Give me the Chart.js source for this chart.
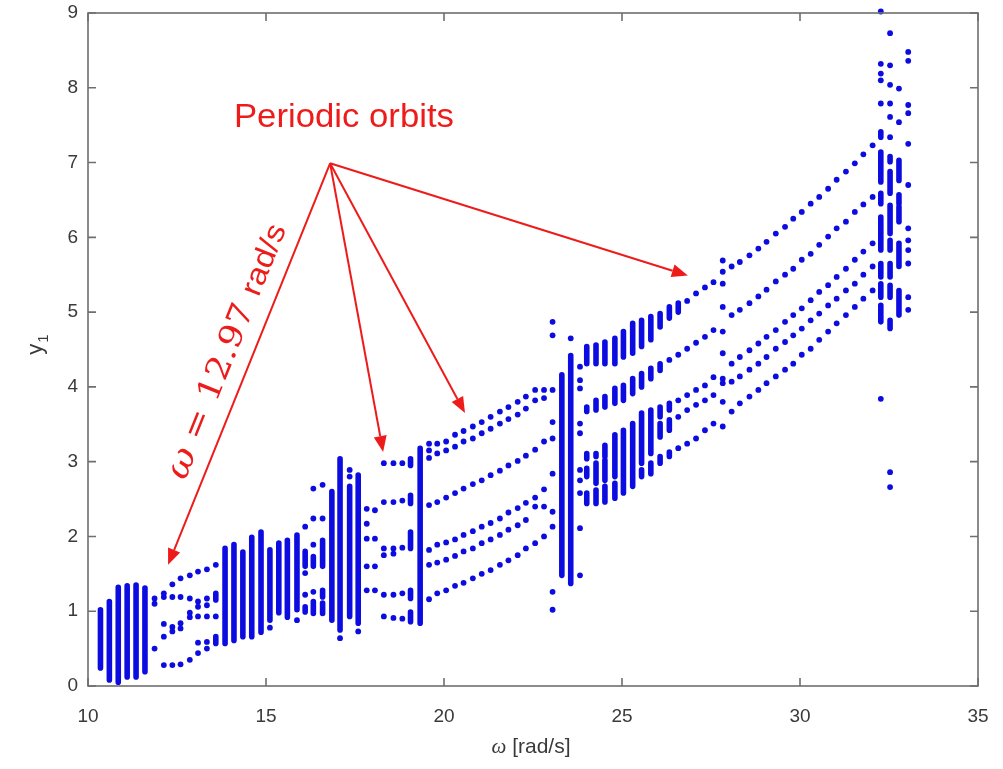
<!DOCTYPE html>
<html>
<head>
<meta charset="utf-8">
<script src="https://cdn.jsdelivr.net/npm/chart.js@4.4.1/dist/chart.umd.min.js"></script>
<style>
  html, body { margin: 0; padding: 0; background: #ffffff; }
  canvas { display: block; }
</style>
</head>
<body>
<canvas id="c" width="1003" height="769"></canvas>
<script>
// ---- Data ----
// Excitation frequency of each sampled column [rad/s]
const omega = [
  10.35, 10.6, 10.85, 11.1, 11.35, 11.6,
  11.87, 12.13, 12.37, 12.6, 12.86, 13.09, 13.34, 13.59,
  13.85, 14.1, 14.35, 14.6, 14.86, 15.11, 15.36, 15.6, 15.87,
  16.1, 16.33, 16.59, 16.85, 17.08, 17.35, 17.59, 17.83, 18.06,
  18.31, 18.58, 18.83, 19.06, 19.33, 19.58, 19.81,
  20.06, 20.31, 20.55, 20.81, 21.06, 21.31, 21.57, 21.81, 22.07, 22.3, 22.56, 22.81,
  23.05, 23.31, 23.56, 23.82,
  24.01, 24.27, 24.52, 24.8, 25.04, 25.3, 25.55, 25.81, 26.07, 26.33, 26.58, 26.83,
  27.08, 27.33, 27.57, 27.83,
  28.08, 28.31, 28.58, 28.83, 29.06, 29.32, 29.58, 29.81, 30.05, 30.3, 30.54, 30.79,
  31.03, 31.29, 31.54, 31.78, 32.04,
  32.27, 32.53, 32.78, 33.04
];

// Isolated Poincaré points y1 of each column
const dotsY = [
  [], [], [], [], [], [],
  [1.17, 1.10, 0.50],
  [1.24, 1.19, 0.83, 0.66, 0.28],
  [1.36, 1.19, 0.79, 0.73, 0.28],
  [1.44, 1.19, 0.84, 0.77, 0.29],
  [1.48, 1.17, 0.98, 0.92, 0.35],
  [1.53, 1.13, 1.06, 0.93, 0.58, 0.44],
  [1.56, 1.17, 1.08, 0.93, 0.59, 0.50],
  [1.62, 0.93],
  [], [], [], [], [], [0.78], [], [], [0.88],
  [2.13, 1.51, 1.22],
  [2.64, 2.24, 1.89, 1.26],
  [2.69, 2.24],
  [],
  [0.64],
  [2.89, 2.80],
  [0.73],
  [2.37, 2.17, 1.97, 1.60, 1.28],
  [2.35, 1.97, 1.60, 1.28],
  [2.98, 2.46, 1.84, 1.75, 1.22, 0.93],
  [2.98, 2.46, 1.84, 1.77, 1.22, 0.91],
  [2.98, 2.48, 1.85, 1.24, 0.90],
  [],
  [],
  [3.24, 3.15, 3.05, 2.42, 1.82, 1.62, 1.16],
  [3.24, 3.11, 2.46, 1.89, 1.65, 1.24],
  [3.27, 3.15, 2.52, 1.92, 1.69, 1.28],
  [3.36, 3.20, 2.58, 1.96, 1.74, 1.34],
  [3.41, 3.27, 2.64, 2.02, 1.80, 1.38],
  [3.47, 3.31, 2.70, 2.07, 1.84, 1.44],
  [3.53, 3.38, 2.75, 2.13, 1.91, 1.50],
  [3.60, 3.44, 2.82, 2.18, 1.96, 1.55],
  [3.67, 3.51, 2.88, 2.24, 2.02, 1.62],
  [3.73, 3.57, 2.95, 2.32, 2.09, 1.68],
  [3.80, 3.63, 3.01, 2.38, 2.15, 1.75],
  [3.87, 3.71, 3.08, 2.45, 2.22, 1.84],
  [3.96, 3.82, 3.16, 2.52, 2.40, 1.91],
  [3.96, 3.85, 3.27, 2.63, 2.40, 2.00],
  [4.87, 4.69, 3.96, 3.53, 3.31, 2.84, 2.33, 2.13, 1.26, 1.02],
  [],
  [4.65],
  [4.27, 4.09, 3.98, 3.51, 3.38, 2.89, 2.75, 2.58, 2.11, 1.48],
  [], [], [], [], [], [], [], [], [],
  [4.36],
  [4.43, 3.82, 3.60, 3.18],
  [5.15, 4.51, 3.89, 3.69, 3.24],
  [5.25, 4.59, 3.96, 3.76, 3.31],
  [5.33, 4.67, 4.02, 3.82, 3.42],
  [5.40, 4.76, 4.13, 3.89, 3.51],
  [5.69, 5.54, 5.38, 5.07, 4.74, 4.45, 4.11, 4.05, 3.80, 3.47],
  [5.61, 4.96, 4.31, 4.07, 3.67],
  [5.67, 5.03, 4.40, 4.14, 3.78],
  [5.76, 5.12, 4.49, 4.23, 3.87],
  [5.85, 5.21, 4.58, 4.31, 3.96],
  [5.94, 5.30, 4.67, 4.40, 4.05],
  [6.05, 5.41, 4.76, 4.51, 4.14],
  [6.14, 5.50, 4.87, 4.60, 4.23],
  [6.25, 5.58, 4.96, 4.69, 4.31],
  [6.34, 5.70, 5.05, 4.78, 4.43],
  [6.45, 5.78, 5.16, 4.89, 4.51],
  [6.54, 5.90, 5.27, 4.98, 4.63],
  [6.65, 6.01, 5.36, 5.09, 4.74],
  [6.77, 6.12, 5.47, 5.18, 4.85],
  [6.88, 6.21, 5.58, 5.29, 4.96],
  [6.99, 6.34, 5.70, 5.38, 5.07],
  [7.11, 6.44, 5.81, 5.50, 5.18],
  [7.23, 6.54, 5.92, 5.61, 5.29],
  [9.02, 8.32, 8.19, 8.10, 7.79, 3.84],
  [8.73, 8.30, 8.04, 7.79, 7.61, 7.34, 2.86, 2.66],
  [7.99, 7.54],
  [8.48, 8.36, 7.77, 7.66, 7.25, 6.70, 6.12, 5.96, 5.83, 5.65, 5.20, 5.03]
];

// Dense runs of points (chaotic / quasi-periodic bands): [low, high] per column
const runsY = [
  [[0.24, 1.02]], [[0.08, 1.13]], [[0.05, 1.32]], [[0.12, 1.34]], [[0.12, 1.35]], [[0.19, 1.31]],
  [], [], [], [], [], [], [],
  [[1.15, 1.24], [0.57, 0.66]],
  [[0.57, 1.84]], [[0.61, 1.89]], [[0.66, 1.79]], [[0.66, 1.99]], [[0.72, 2.06]],
  [[0.88, 1.82]], [[0.98, 1.91]], [[0.92, 1.95]], [[1.02, 2.02]],
  [[1.60, 1.80], [0.99, 1.06]],
  [[1.60, 1.73], [0.97, 1.13]],
  [[1.60, 1.95], [1.19, 1.28], [0.97, 1.11]],
  [[0.88, 2.60]],
  [[0.75, 3.04]],
  [[0.93, 2.67]],
  [[0.84, 2.82]],
  [], [], [], [], [],
  [[2.95, 3.04], [2.44, 2.55], [1.84, 2.06], [1.17, 1.28], [0.86, 0.99]],
  [[0.84, 3.18]],
  [], [],
  [], [], [], [], [], [], [], [], [], [], [], [],
  [],
  [[1.48, 4.16]],
  [[1.37, 4.42]],
  [],
  [[4.31, 4.54], [3.67, 3.73], [3.04, 3.11], [2.80, 2.91], [2.44, 2.58]],
  [[4.31, 4.56], [3.69, 3.82], [3.07, 3.11], [2.71, 2.98], [2.44, 2.62]],
  [[4.31, 4.60], [3.73, 3.87], [3.07, 3.22], [2.75, 3.02], [2.46, 2.67]],
  [[4.31, 4.65], [3.78, 3.98], [2.80, 3.36], [2.51, 2.71]],
  [[4.40, 4.74], [3.82, 4.02], [2.58, 3.42]],
  [[4.45, 4.85], [3.91, 4.11], [2.67, 3.51]],
  [[4.54, 4.89], [4.00, 4.18], [2.98, 3.65], [2.80, 2.89]],
  [[4.63, 4.94], [4.11, 4.25], [3.11, 3.69], [2.84, 2.98]],
  [[4.80, 4.98], [4.22, 4.31], [3.60, 3.73], [3.33, 3.51], [2.98, 3.07]],
  [[4.92, 5.07], [3.69, 3.78], [3.42, 3.56], [3.07, 3.13]],
  [[5.00, 5.12]],
  [], [], [], [], [],
  [], [], [], [], [], [], [], [], [], [], [], [], [], [], [], [], [],
  [[7.34, 7.41], [6.74, 7.14], [6.45, 6.59], [5.83, 6.27], [5.47, 5.65], [5.20, 5.38], [4.87, 5.09]],
  [[7.01, 7.08], [6.59, 6.88], [6.05, 6.43], [5.83, 5.96], [5.47, 5.65], [5.20, 5.36], [4.78, 4.89]],
  [[6.76, 7.03], [6.45, 6.57], [6.21, 6.41], [5.61, 5.92], [4.96, 5.29]],
  []
];

// Axis ticks
const xTickValues = [10, 15, 20, 25, 30, 35];
const yTickValues = [0, 1, 2, 3, 4, 5, 6, 7, 8, 9];

// Annotation anchors (data coordinates)
const arrowFrom = [16.80, 6.99];
const arrowTargets = [[26.85, 5.49], [20.59, 3.65], [18.29, 3.13], [12.25, 1.62]];
const labelPeriodic = { text: 'Periodic orbits', at: [17.19, 7.60] };
const labelOmega = { at: [13.93, 4.47] };

// ---- Build datasets from the arrays ----
const dotPoints = [];
omega.forEach((w, i) => dotsY[i].forEach(v => dotPoints.push({ x: w, y: v })));
const runPoints = [];
omega.forEach((w, i) => runsY[i].forEach(r => {
  runPoints.push({ x: w, y: r[0] }, { x: w, y: r[1] }, { x: w, y: null });
}));

const BLUE = '#0c0ce0';
const RED = '#ee1b1b';

const annotPlugin = {
  id: 'annot',
  afterDatasetsDraw(chart) {
    const { ctx, scales: { x, y } } = chart;
    const P = (p) => [x.getPixelForValue(p[0]), y.getPixelForValue(p[1])];
    ctx.save();
    ctx.strokeStyle = RED; ctx.fillStyle = RED; ctx.lineWidth = 2;
    const [x0, y0] = P(arrowFrom);
    arrowTargets.forEach(t => {
      const [x1, y1] = P(t);
      const a = Math.atan2(y1 - y0, x1 - x0);
      const hl = 16, hw = 6.5;
      const bx = x1 - hl * Math.cos(a), by = y1 - hl * Math.sin(a);
      ctx.beginPath(); ctx.moveTo(x0, y0); ctx.lineTo(bx, by); ctx.stroke();
      ctx.beginPath();
      ctx.moveTo(x1, y1);
      ctx.lineTo(bx + hw * Math.sin(a), by - hw * Math.cos(a));
      ctx.lineTo(bx - hw * Math.sin(a), by + hw * Math.cos(a));
      ctx.closePath(); ctx.fill();
    });
    // "Periodic orbits"
    const [tx, ty] = P(labelPeriodic.at);
    ctx.font = '31px "Liberation Sans", Arial, sans-serif';
    ctx.textBaseline = 'middle'; ctx.textAlign = 'center';
    const mw = ctx.measureText(labelPeriodic.text).width;
    ctx.save(); ctx.translate(tx, ty); ctx.scale(220 / mw, 1.05);
    ctx.fillText(labelPeriodic.text, 0, 0); ctx.restore();
    // rotated omega label
    const [rx, ry] = P(labelOmega.at);
    const parts = [
      { t: '\u03C9', f: 'italic 34px "DejaVu Serif", serif' },
      { t: ' = 12.97 ', f: '32px "DejaVu Serif", serif' },
      { t: 'rad/s', f: '30px "Liberation Sans", Arial, sans-serif' }
    ];
    let total = 0;
    parts.forEach(p => { ctx.font = p.f; p.w = ctx.measureText(p.t).width; total += p.w; });
    const ang = Math.atan2(-402, 162);
    ctx.save(); ctx.translate(rx, ry); ctx.rotate(ang);
    const sc = 272 / total; ctx.scale(sc, 1);
    ctx.textAlign = 'left'; ctx.textBaseline = 'middle';
    let cx = -total / 2;
    parts.forEach(p => { ctx.font = p.f; ctx.fillText(p.t, cx, 0); cx += p.w; });
    ctx.restore();
    ctx.restore();
  },
  afterDraw(chart) {
    const { ctx, chartArea: a, scales: { x, y } } = chart;
    ctx.save();
    ctx.strokeStyle = '#6f6f6f'; ctx.lineWidth = 1.6;
    ctx.strokeRect(a.left, a.top, a.right - a.left, a.bottom - a.top);
    ctx.beginPath();
    const tl = 8;
    xTickValues.forEach(v => {
      const px = x.getPixelForValue(v);
      ctx.moveTo(px, a.bottom); ctx.lineTo(px, a.bottom - tl);
      ctx.moveTo(px, a.top); ctx.lineTo(px, a.top + tl);
    });
    yTickValues.forEach(v => {
      const py = y.getPixelForValue(v);
      ctx.moveTo(a.left, py); ctx.lineTo(a.left + tl, py);
      ctx.moveTo(a.right, py); ctx.lineTo(a.right - tl, py);
    });
    ctx.stroke();
    // axis titles
    ctx.fillStyle = '#3a3a3a';
    ctx.textBaseline = 'middle';
    const xt1 = '\u03C9', xt2 = ' [rad/s]';
    ctx.font = 'italic 21px "Liberation Serif", serif';
    const w1 = ctx.measureText(xt1).width;
    ctx.font = '21px "Liberation Sans", Arial, sans-serif';
    const w2 = ctx.measureText(xt2).width;
    const cxm = (a.left + a.right) / 2 - 2;
    let sx = cxm - (w1 + w2) / 2;
    ctx.textAlign = 'left';
    ctx.font = 'italic 21px "Liberation Serif", serif';
    ctx.fillText(xt1, sx, 747);
    ctx.font = '21px "Liberation Sans", Arial, sans-serif';
    ctx.fillText(xt2, sx + w1, 747);
    // y title
    ctx.save();
    ctx.translate(38, 345);
    ctx.rotate(-Math.PI / 2);
    ctx.font = '22px "Liberation Sans", Arial, sans-serif';
    const wy = ctx.measureText('y').width;
    ctx.font = '15px "Liberation Sans", Arial, sans-serif';
    const w1s = ctx.measureText('1').width;
    let yx = -(wy + w1s) / 2;
    ctx.font = '22px "Liberation Sans", Arial, sans-serif';
    ctx.fillText('y', yx, -2);
    ctx.font = '15px "Liberation Sans", Arial, sans-serif';
    ctx.fillText('1', yx + wy + 1, 6);
    ctx.restore();
    ctx.restore();
  }
};

new Chart(document.getElementById('c'), {
  type: 'scatter',
  data: {
    datasets: [
      {
        label: 'dense runs',
        data: runPoints,
        showLine: true,
        spanGaps: false,
        borderColor: BLUE,
        borderWidth: 5.6,
        borderCapStyle: 'round',
        pointRadius: 0,
        clip: 6
      },
      {
        label: 'Poincaré points',
        data: dotPoints,
        pointRadius: 2.9,
        pointHoverRadius: 2.9,
        pointBackgroundColor: BLUE,
        pointBorderWidth: 0,
        showLine: false,
        clip: 6
      }
    ]
  },
  options: {
    responsive: false,
    devicePixelRatio: 1,
    animation: false,
    layout: { padding: { top: 13, right: 25, left: 0, bottom: 0 } },
    plugins: { legend: { display: false }, tooltip: { enabled: false } },
    scales: {
      x: {
        type: 'linear', min: 10, max: 35,
        afterBuildTicks: s => { s.ticks = xTickValues.map(v => ({ value: v })); },
        afterFit: s => { s.height = 83; s.paddingLeft = 0; s.paddingRight = 0; },
        ticks: { color: '#3a3a3a', font: { size: 19, family: '"Liberation Sans", Arial, sans-serif' }, padding: 19, maxRotation: 0 },
        grid: { drawOnChartArea: false, drawTicks: false },
        border: { display: false }
      },
      y: {
        type: 'linear', min: 0, max: 9,
        afterBuildTicks: s => { s.ticks = yTickValues.map(v => ({ value: v })); },
        afterFit: s => { s.width = 88; s.paddingTop = 0; s.paddingBottom = 0; },
        ticks: { color: '#3a3a3a', font: { size: 19, family: '"Liberation Sans", Arial, sans-serif' }, padding: 10 },
        grid: { drawOnChartArea: false, drawTicks: false },
        border: { display: false }
      }
    }
  },
  plugins: [annotPlugin]
});
</script>
</body>
</html>
